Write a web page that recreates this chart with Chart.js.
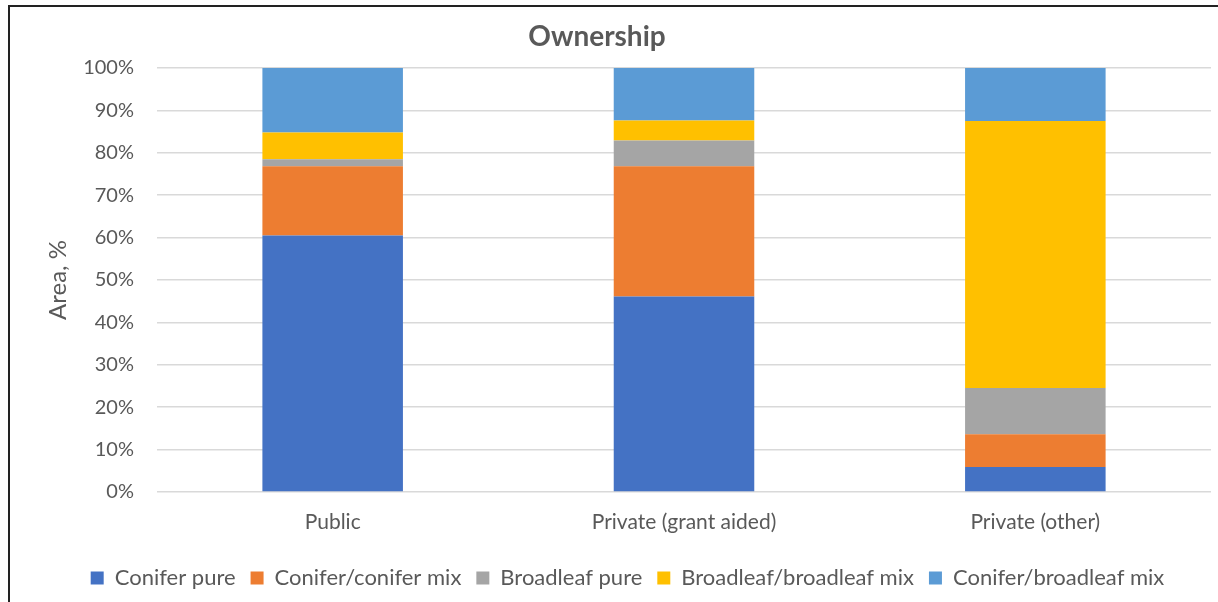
<!DOCTYPE html>
<html>
<head>
<meta charset="utf-8">
<script src="https://cdn.jsdelivr.net/npm/chart.js@4"></script>
<style>
  html, body { margin: 0; padding: 0; background: #fff; overflow: hidden; }
  #wrap { position: relative; width: 1218px; height: 602px; }
  #frame { position: absolute; left: 8px; top: 5px; width: 1300px; height: 700px;
           border-top: 2px solid #222; border-left: 2px solid #222; pointer-events: none; }
  canvas { position: absolute; left: 0; top: 0; }
</style>
</head>
<body>
<div id="wrap">
  <div id="frame"></div>
  <canvas id="myChart" width="1218" height="602"></canvas>
</div>
<script>
// ownership categories
const categories = ["Public", "Private (grant aided)", "Private (other)"];

// share of area, %
const coniferPure = [60.5, 46.1, 5.9];
const coniferMix = [16.3, 30.7, 7.7];
const broadleafPure = [1.7, 6.1, 10.9];
const broadleafMix = [6.3, 4.7, 63.0];
const coniferBroadleafMix = [15.2, 12.4, 12.5];

const seriesNames = ["Conifer pure", "Conifer/conifer mix", "Broadleaf pure", "Broadleaf/broadleaf mix", "Conifer/broadleaf mix"];
const seriesColors = ["#4472C4", "#ED7D31", "#A5A5A5", "#FFC000", "#5B9BD5"];

const chartTitle = "Ownership";
const yTitle = "Area, %";

const textColor = "#595959";
const fontFamily = "Lato, 'Liberation Sans', sans-serif";

const titlePlugin = {
    id: "ownTitle",
    afterDraw(chart) {
        const ctx = chart.ctx;
        ctx.save();
        ctx.font = "bold 28px " + fontFamily;
        ctx.fillStyle = textColor;
        ctx.textAlign = "center";
        ctx.textBaseline = "middle";
        ctx.fillText(chartTitle, 597, 37);
        ctx.restore();
    }
};

const allSeries = [coniferPure, coniferMix, broadleafPure, broadleafMix, coniferBroadleafMix];

const ctx = document.getElementById("myChart").getContext("2d");
const chart = new Chart(ctx, {
    type: "bar",
    data: {
        labels: categories,
        datasets: allSeries.map((vals, i) => ({
            label: seriesNames[i],
            data: vals,
            backgroundColor: seriesColors[i],
            borderWidth: 0,
            barPercentage: 0.4,
            categoryPercentage: 1
        }))
    },
    options: {
        responsive: false,
        animation: false,
        layout: { padding: { left: 44, right: 7, top: 68, bottom: 3 } },
        plugins: {
            legend: {
                position: "bottom",
                labels: {
                    boxWidth: 13,
                    boxHeight: 13,
                    padding: 15,
                    color: textColor,
                    font: { family: fontFamily, size: 22 }
                }
            },
            title: { display: false },
            tooltip: { enabled: false }
        },
        scales: {
            x: {
                stacked: true,
                grid: { display: false },
                border: { display: false },
                ticks: {
                    color: textColor,
                    padding: 10,
                    font: { family: fontFamily, size: 21 }
                },
                afterFit(scale) { scale.height = 60; }
            },
            y: {
                stacked: true,
                min: 0,
                max: 100,
                border: { display: false },
                grid: { color: "#d9d9d9", lineWidth: 1.5, drawTicks: false },
                ticks: {
                    stepSize: 10,
                    color: textColor,
                    padding: 23,
                    font: { family: fontFamily, size: 20 },
                    callback: v => v + "%"
                },
                title: {
                    display: true,
                    text: yTitle,
                    color: textColor,
                    padding: { top: 0, bottom: 0 },
                    font: { family: fontFamily, size: 24 }
                },
                afterFit(scale) { scale.width = 113; }
            }
        }
    },
    plugins: [titlePlugin]
});
</script>
</body>
</html>
